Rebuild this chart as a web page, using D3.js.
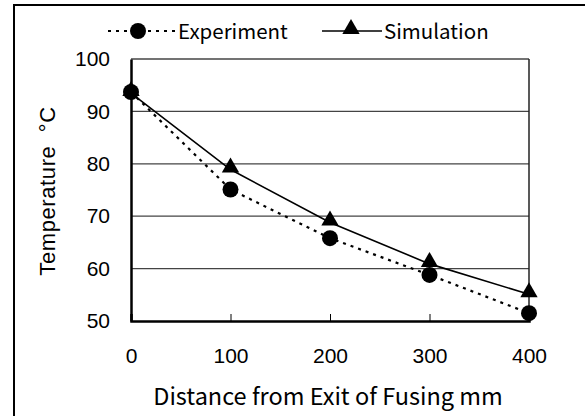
<!DOCTYPE html>
<html>
<head>
<meta charset="utf-8">
<script src="https://cdn.jsdelivr.net/npm/d3@7"></script>
<style>
  body { margin: 0; background: #fff; }
  text { font-family: "Noto Sans CJK JP", "Noto Sans", sans-serif; fill: #000; }
</style>
</head>
<body>
<svg width="585" height="416"></svg>
<script>
const distances = [0, 100, 200, 300, 400]
const experiment = [93.7, 75.1, 65.8, 58.8, 51.5]
const simulation = [93.5, 78.9, 68.8, 60.9, 55.1]
const xTicks = [0, 100, 200, 300, 400]
const yTicks = [50, 60, 70, 80, 90, 100]

const svg = d3.select("svg")

// outer frame
svg.append("rect")
    .attr("x", 14)
    .attr("y", 5)
    .attr("width", 600)
    .attr("height", 450)
    .attr("fill", "none")
    .attr("stroke", "#000")
    .attr("stroke-width", 2)

const x = d3.scaleLinear().domain([0, 400]).range([131, 529])
const y = d3.scaleLinear().domain([50, 100]).range([321, 59])

// gridlines
svg.append("g")
    .selectAll("line")
    .data(yTicks.filter(d => d > 50))
    .enter()
    .append("line")
    .attr("x1", x(0))
    .attr("x2", x(400))
    .attr("y1", d => y(d))
    .attr("y2", d => y(d))
    .attr("stroke", "#444")
    .attr("stroke-width", 1.3)

// right border of plot
svg.append("line")
    .attr("x1", x(400)).attr("x2", x(400))
    .attr("y1", y(100)).attr("y2", y(50))
    .attr("stroke", "#222").attr("stroke-width", 1.5)

const xAxis = svg.append("g")
    .attr("transform", `translate(0, ${y(50)})`)
    .call(d3.axisBottom(x).tickValues(xTicks).tickSize(-7).tickPadding(27))
    .attr("font-size", 21)
    .attr("font-family", "Liberation Sans, Arial, sans-serif")
xAxis.select(".domain").attr("stroke-width", 2.5)
xAxis.selectAll(".tick line").attr("stroke-width", 1)
xAxis.selectAll(".tick text").style("font-family", "Liberation Sans, Arial, sans-serif")

const yAxis = svg.append("g")
    .attr("transform", `translate(${x(0)}, 0)`)
    .call(d3.axisLeft(y).tickValues(yTicks).tickSize(0).tickPadding(21))
    .attr("font-size", 21)
    .attr("font-family", "Liberation Sans, Arial, sans-serif")
yAxis.select(".domain").attr("stroke-width", 2.5)
yAxis.selectAll(".tick text").style("font-family", "Liberation Sans, Arial, sans-serif")

// series
const rows = distances.map((d, i) => ({d: d, e: experiment[i], s: simulation[i]}))

const simLine = d3.line().x(r => x(r.d)).y(r => y(r.s))
const expLine = d3.line().x(r => x(r.d)).y(r => y(r.e))

svg.append("path")
    .datum(rows)
    .attr("d", simLine)
    .attr("fill", "none")
    .attr("stroke", "#000")
    .attr("stroke-width", 1.6)

svg.append("path")
    .datum(rows)
    .attr("d", expLine)
    .attr("fill", "none")
    .attr("stroke", "#000")
    .attr("stroke-width", 2.2)
    .attr("stroke-dasharray", "3,5")

const tri = d3.symbol().type(d3.symbolTriangle).size(130)

svg.append("g")
    .selectAll("path")
    .data(rows)
    .enter()
    .append("path")
    .attr("d", tri)
    .attr("transform", r => `translate(${x(r.d)}, ${y(r.s) - 2})`)
    .attr("fill", "#000")

svg.append("g")
    .selectAll("circle")
    .data(rows)
    .enter()
    .append("circle")
    .attr("cx", r => x(r.d))
    .attr("cy", r => y(r.e))
    .attr("r", 8)
    .attr("fill", "#000")

// legend
const legend = svg.append("g")
legend.append("line")
    .attr("x1", 108).attr("x2", 175).attr("y1", 31).attr("y2", 31)
    .attr("stroke", "#000").attr("stroke-width", 2.2).attr("stroke-dasharray", "3,5")
legend.append("circle").attr("cx", 138).attr("cy", 31).attr("r", 8).attr("fill", "#000")
legend.append("text").attr("x", 178).attr("y", 39).attr("font-size", 20.5).text("Experiment")

legend.append("line")
    .attr("x1", 322).attr("x2", 382).attr("y1", 31).attr("y2", 31)
    .attr("stroke", "#000").attr("stroke-width", 1.6)
legend.append("path").attr("d", tri).attr("transform", "translate(351, 29)").attr("fill", "#000")
legend.append("text").attr("x", 384).attr("y", 39).attr("font-size", 20.5).text("Simulation")

// axis titles
svg.append("text")
    .attr("x", 328)
    .attr("y", 405)
    .attr("text-anchor", "middle")
    .attr("font-size", 23.5)
    .text("Distance from Exit of Fusing mm")

svg.append("text")
    .attr("transform", "translate(55, 191) rotate(-90)")
    .attr("text-anchor", "middle")
    .style("font-family", "Liberation Sans, Arial, sans-serif")
    .attr("font-size", 22)
    .attr("letter-spacing", 0.6)
    .text("Temperature\u00A0\u00A0°C")
</script>
</body>
</html>
